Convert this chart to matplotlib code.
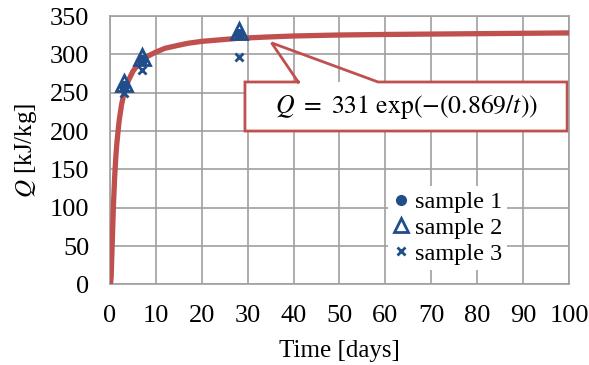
import numpy as np
import matplotlib.pyplot as plt
from matplotlib.lines import Line2D
from matplotlib.patches import Rectangle

plt.rcParams['font.family'] = ['Liberation Serif', 'DejaVu Serif']
plt.rcParams['mathtext.fontset'] = 'stix'

# measured data (days, kJ/kg)
t_s1 = [3, 7, 28]
q_s1 = [259, 293, 327]
t_s2 = [3, 7, 28]
q_s2 = [263, 297, 330]
t_s3 = [3, 7, 28]
q_s3 = [250, 280, 297]

# fitted curve
t_fit = [0, 0.1, 0.25, 0.5, 0.75, 1, 1.25, 1.5, 2, 2.5, 3, 4, 5, 6, 7, 8, 10, 12, 15, 17,
         20, 24, 28, 34, 40, 50, 60, 80, 100]
q_fit = [0, 0, 10, 58, 104, 139, 165, 185, 214, 234, 248, 266, 278, 286, 292, 297, 303, 308, 312, 314.5,
         317, 319, 321, 322.6, 324, 325.3, 326, 327, 328]

fit_label = r'$Q\ =\ 331\ \exp(-(0.869/t))$'

blue = '#1F4E8A'
red = '#C0504D'
grid_c = '#A0A0A0'

fig = plt.figure(figsize=(5.89, 3.65), dpi=100)
ax = fig.add_axes([0.1868, 0.221, 0.7792, 0.735])

ax.plot(t_fit, q_fit, color=red, lw=3.8, solid_capstyle='round', solid_joinstyle='round', zorder=3)
ax.plot(t_s1, q_s1, 'o', color=blue, ms=7, zorder=4)
ax.plot(t_s2, q_s2, '^', mfc='none', mec=blue, mew=2, ms=12, zorder=4)
ax.plot(t_s3, q_s3, 'x', color=blue, mew=2, ms=6, zorder=4)

# callout box with tail
ax.add_patch(Rectangle((29.4, 200), 70.2, 64, facecolor='white', edgecolor='none', zorder=2))
ax.plot([41, 29.4, 29.4, 99.6, 99.6, 58.4, 35.2, 41],
        [264, 264, 200, 200, 264, 264, 315, 264],
        color=red, lw=2, zorder=2.5, solid_joinstyle='miter')
ax.text(64.5, 231, fit_label, ha='center', va='center', fontsize=18.5, zorder=5)

ax.set_xlim(0, 100)
ax.set_ylim(0, 350)
ax.set_xticks(np.arange(0, 101, 10))
ax.set_yticks(np.arange(0, 351, 50))
ax.tick_params(length=0, labelsize=19)
ax.tick_params(axis='x', pad=15)
ax.tick_params(axis='y', pad=15)
ax.grid(True, color=grid_c, lw=1.2)
ax.set_axisbelow(True)
for s in ax.spines.values():
    s.set_color(grid_c)
    s.set_linewidth(1.2)

ax.set_xlabel('Time [days]', fontsize=18, labelpad=9)
ax.set_ylabel(r'$Q$ [kJ/kg]', fontsize=18, labelpad=8)

handles = [
    Line2D([], [], ls='none', marker='o', color=blue, ms=7),
    Line2D([], [], ls='none', marker='^', mfc='none', mec=blue, mew=2, ms=10),
    Line2D([], [], ls='none', marker='x', color=blue, mew=2, ms=6),
]
leg = ax.legend(handles, ['sample 1', 'sample 2', 'sample 3'],
                loc='center left', bbox_to_anchor=(0.58, 0.21),
                fontsize=17.5, frameon=True, facecolor='white', edgecolor='none',
                framealpha=1, fancybox=False, handlelength=0.6, handletextpad=0.3,
                labelspacing=0.15, borderpad=0.2)
leg.set_zorder(6)

fig.savefig('out.png', dpi=100)
